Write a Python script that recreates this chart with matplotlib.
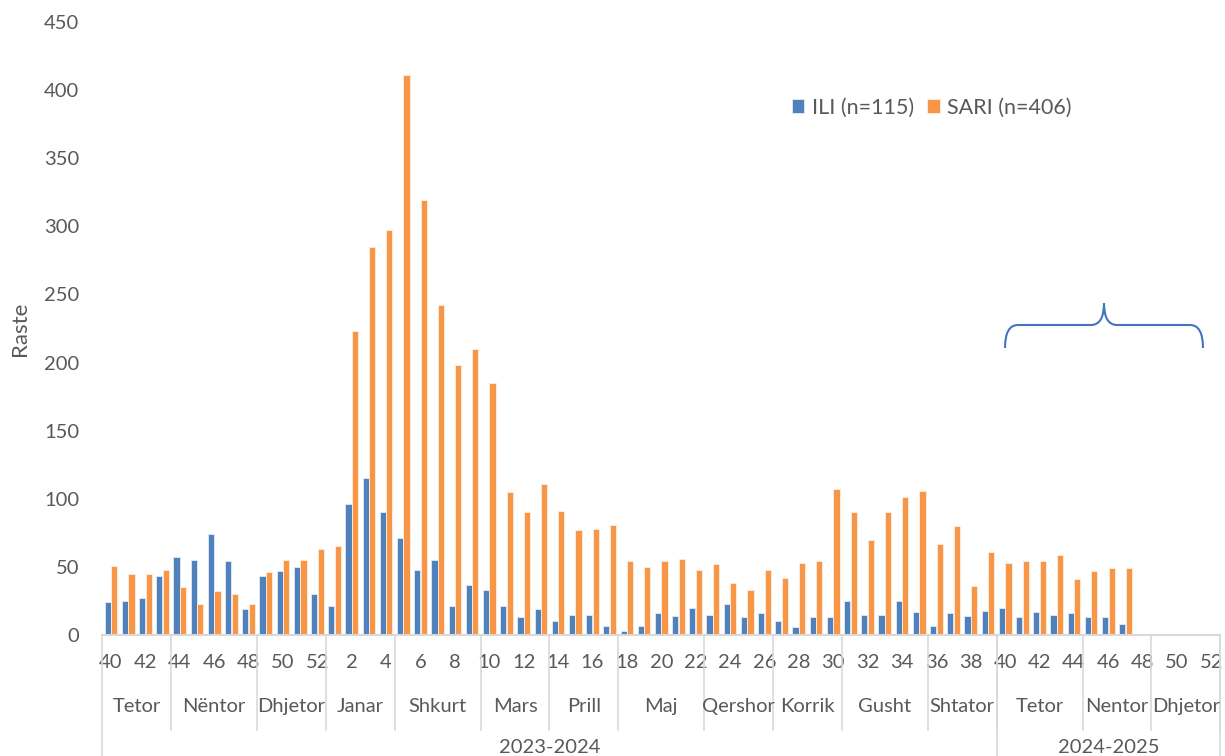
import numpy as np
import matplotlib.pyplot as plt
from matplotlib.path import Path
from matplotlib.patches import PathPatch
import matplotlib.transforms as mtransforms

# weeks 40-52 of 2023, 1-39 of 2024, 40-52 of 2024
weeks = list(range(40, 53)) + list(range(1, 40)) + list(range(40, 53))

ili = [24, 25, 27, 43, 57, 55, 74, 54, 19, 43, 47, 50, 30,
       21, 96, 115, 90, 71, 48, 55, 21, 37, 33,
       21, 13, 19, 10, 15, 15, 7, 3, 7, 16,
       14, 20, 15, 23, 13, 16, 10, 6, 13, 13,
       25, 15, 15, 25, 17, 7, 16, 14, 18,
       20, 13, 17, 15, 16, 13, 13, 8]
sari = [51, 45, 45, 48, 35, 23, 32, 30, 23, 46, 55, 55, 63,
        65, 223, 285, 297, 411, 319, 242, 198, 210, 185,
        105, 90, 111, 91, 77, 78, 81, 54, 50, 54,
        56, 48, 52, 38, 33, 48, 42, 53, 54, 107,
        90, 70, 90, 101, 106, 67, 80, 36, 61,
        53, 54, 54, 59, 41, 47, 49, 49]

months = ['Tetor', 'Nëntor', 'Dhjetor', 'Janar', 'Shkurt', 'Mars', 'Prill', 'Maj',
          'Qershor', 'Korrik', 'Gusht', 'Shtator', 'Tetor', 'Nentor', 'Dhjetor']
month_weeks = [4, 5, 4, 4, 5, 4, 4, 5, 4, 4, 5, 4, 5, 4, 4]
seasons = ['2023-2024', '2024-2025']
season_weeks = [52, 13]

blue = '#4F81BD'
orange = '#F79646'
grey = '#595959'
line_grey = '#D9D9D9'
fs = 14.5

plt.rcParams['font.family'] = ['Lato', 'DejaVu Sans']

fig = plt.figure(figsize=(12.25, 7.56), dpi=100)
ax = fig.add_axes([0.0836, 0.160, 0.9124, 0.811])

n = len(weeks)
x = np.arange(len(ili))
w = 0.36
ax.bar(x - 0.19, ili, width=w, color=blue, edgecolor='#DCE6F2', linewidth=0.7,
       label='ILI (n=115)')
ax.bar(x + 0.19, sari, width=w, color=orange, edgecolor='#FDE9D9', linewidth=0.7,
       label='SARI (n=406)')

ax.set_xlim(-0.5, n - 0.5)
ax.set_ylim(0, 450)
ax.set_yticks(range(0, 451, 50))
ax.tick_params(axis='y', length=0, pad=16.5, labelsize=fs, labelcolor=grey)
ax.set_xticks(range(0, n, 2))
ax.set_xticklabels([str(wk) for wk in weeks[::2]])
ax.tick_params(axis='x', length=0, pad=13.5, labelsize=fs, labelcolor=grey)
for s in ['top', 'right', 'left']:
    ax.spines[s].set_visible(False)
ax.spines['bottom'].set_color(line_grey)
ax.spines['bottom'].set_linewidth(1.5)

ax.set_ylabel('Raste', fontsize=16, color=grey, labelpad=10)

# multi-level category axis
trans = mtransforms.blended_transform_factory(ax.transData, ax.transAxes)
pos = -0.5
for name, cnt in zip(months, month_weeks):
    ax.text(pos + cnt / 2, -0.117, name, transform=trans, ha='center', va='center',
            fontsize=fs, color=grey)
    pos += cnt
    ax.plot([pos, pos], [0, -0.155], transform=trans, color=line_grey, lw=1.2,
            clip_on=False)
pos = -0.5
ax.plot([pos, pos], [0, -0.2], transform=trans, color=line_grey, lw=1.2, clip_on=False)
for name, cnt in zip(seasons, season_weeks):
    ax.text(pos + cnt / 2, -0.183, name, transform=trans, ha='center', va='center',
            fontsize=fs, color=grey)
    pos += cnt
    ax.plot([pos, pos], [0, -0.2], transform=trans, color=line_grey, lw=1.2,
            clip_on=False)

ax.legend(loc='center', bbox_to_anchor=(0.742, 0.86), ncol=2, frameon=False,
          fontsize=15.5, handlelength=0.6, handleheight=0.6, handletextpad=0.35,
          columnspacing=0.6, labelcolor=grey)

# curly brace over the 2024-2025 weeks (pixel coords, y down)
def px(xp, yp):
    return (xp / 1225, 1 - yp / 756)

verts = [px(1005, 348), px(1005, 325), px(1018, 325),
         px(1091, 325),
         px(1104, 325), px(1104, 303),
         px(1104, 325), px(1117, 325),
         px(1190, 325),
         px(1203, 325), px(1203, 348)]
codes = [Path.MOVETO, Path.CURVE3, Path.CURVE3,
         Path.LINETO,
         Path.CURVE3, Path.CURVE3,
         Path.CURVE3, Path.CURVE3,
         Path.LINETO,
         Path.CURVE3, Path.CURVE3]
fig.add_artist(PathPatch(Path(verts, codes), transform=fig.transFigure,
                         fill=False, edgecolor='#4472C4', lw=1.5))

fig.savefig('out.png', dpi=100)
